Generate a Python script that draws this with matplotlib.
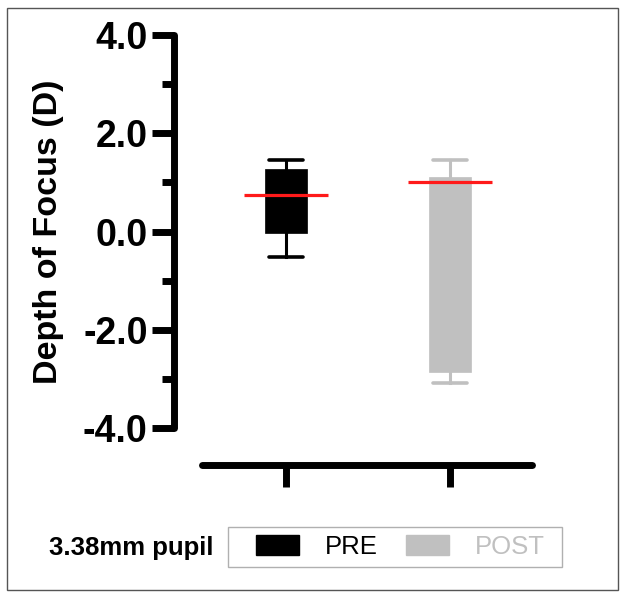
import matplotlib
matplotlib.use("Agg")
import matplotlib.pyplot as plt
from matplotlib.patches import Patch, Rectangle

plt.rcParams['font.family'] = ['Liberation Sans', 'DejaVu Sans']

groups = ["PRE", "POST"]
q1 = [-0.03, -2.86]
q3 = [1.27, 1.11]
med = [0.745, 1.0]
whislo = [-0.52, -3.08]
whishi = [1.46, 1.46]
colors = ["#000000", "#c0c0c0"]
yticks = [-4.0, -2.0, 0.0, 2.0, 4.0]
yticklabels = ["-4.0", "-2.0", "0.0", "2.0", "4.0"]
minor_ticks = [-3.0, -1.0, 1.0, 3.0]
legend_title = "3.38mm pupil"

fig = plt.figure(figsize=(6.24, 5.98), dpi=100)
ax = fig.add_axes([174 / 624, (598 - 465) / 598, (560 - 174) / 624, (465 - 35) / 598])

pos = [1, 2]
for i in range(len(groups)):
    stats = [dict(med=med[i], q1=q1[i], q3=q3[i], whislo=whislo[i], whishi=whishi[i])]
    ax.bxp(stats, positions=[pos[i]], widths=0.256, showfliers=False, patch_artist=True,
           capwidths=0.21,
           boxprops=dict(facecolor=colors[i], edgecolor=colors[i], linewidth=0.5),
           whiskerprops=dict(color=colors[i], linewidth=2.2),
           capprops=dict(color=colors[i], linewidth=2.6, solid_capstyle='round'),
           medianprops=dict(color=colors[i], linewidth=0))
    ax.hlines(med[i], pos[i] - 0.256, pos[i] + 0.256, color="#ff1a1a", linewidth=2.3, zorder=5)

ax.set_xlim(0.317, 2.67)
ax.set_ylim(-4.753, 4.0)

for s in ["top", "right"]:
    ax.spines[s].set_visible(False)
ax.spines["left"].set_bounds(-4, 4)
ax.spines["bottom"].set_bounds(0.49, 2.5)
for s in ["left", "bottom"]:
    ax.spines[s].set_linewidth(5)
    ax.spines[s].set_capstyle('round')

ax.set_yticks(yticks)
ax.set_yticklabels(yticklabels, fontsize=27, fontweight='bold')
ax.set_yticks(minor_ticks, minor=True)
ax.tick_params(axis='y', which='major', length=16, width=5, pad=3)
ax.tick_params(axis='y', which='minor', length=8.5, width=5)
ax.set_xticks(pos)
ax.set_xticklabels(["", ""])
ax.tick_params(axis='x', length=16, width=5)
for t in ax.xaxis.get_major_ticks():
    t.tick1line.set_solid_capstyle('round')

fig.text(49 / 624, (598 - 232) / 598, "Depth of Focus (D)", rotation=90,
         ha='center', va='center', fontsize=24.5, fontweight='bold')

handles = [Patch(facecolor=colors[0], edgecolor=colors[0]),
           Patch(facecolor=colors[1], edgecolor=colors[1])]
leg = fig.legend(handles, groups, loc='center', bbox_to_anchor=(400 / 624, (598 - 547) / 598),
                 ncol=2, fontsize=18.5, frameon=False,
                 handlelength=1.68, handleheight=0.8, handletextpad=1.0, columnspacing=1.1,
                 borderpad=0.3)
leg.get_texts()[1].set_color(colors[1])
fig.patches.append(Rectangle((228 / 624, (598 - 567) / 598), 334 / 624, 40 / 598,
                             transform=fig.transFigure, fill=False, edgecolor="#b0b0b0",
                             linewidth=1))

fig.text(131 / 624, (598 - 548) / 598, legend_title, ha='center', va='center',
         fontsize=18.5, fontweight='bold')

fig.patches.append(Rectangle((7 / 624, 8 / 598), 611 / 624, 582 / 598, transform=fig.transFigure,
                             fill=False, edgecolor="#555555", linewidth=1))

fig.savefig("out.png", dpi=100)
